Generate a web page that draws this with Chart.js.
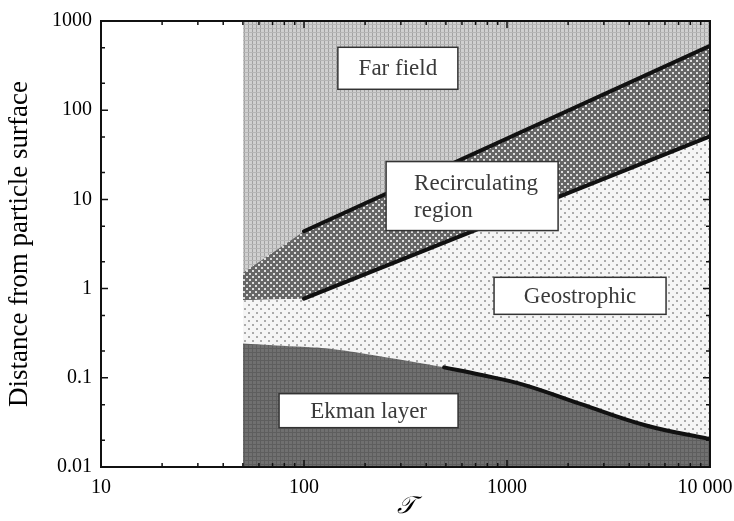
<!DOCTYPE html>
<html>
<head>
<meta charset="utf-8">
<script src="https://cdn.jsdelivr.net/npm/chart.js@4/dist/chart.umd.min.js"></script>
<style>
  html, body { margin: 0; padding: 0; background: #fff; overflow: hidden; }
  #wrap { width: 734px; height: 521px; position: relative; }
</style>
</head>
<body>
<div id="wrap"><canvas id="regimeChart"></canvas></div>
<script>
// 流动区域边界 (横坐标 T, 纵坐标 距颗粒表面距离)
const ekmanX = [50, 93, 135, 240, 490, 740, 1200, 2300, 4900, 10000];
const ekmanTop = [0.243, 0.224, 0.211, 0.173, 0.131, 0.108, 0.084, 0.051, 0.029, 0.0205];
const geoX = [50, 100, 10000];
const geoTop = [0.74, 0.77, 51];
const recircX = [50, 100, 10000];
const recircTop = [1.5, 4.4, 528];
const farX = [50, 10000];
const farTop = [1000, 1000];

// 刻度
const xTicks = [10, 100, 1000, 10000];
const xTickLabels = ['10', '100', '1000', '10 000'];
const yTicks = [0.01, 0.1, 1, 10, 100, 1000];
const yTickLabels = ['0.01', '0.1', '1', '10', '100', '1000'];

const regionNames = ['Far field', 'Recirculating region', 'Geostrophic', 'Ekman layer'];

const SERIF = '"Liberation Serif", "Times New Roman", serif';

const pts = (xs, ys) => xs.map((x, i) => ({ x, y: ys[i] }));

// 网点填充
function makePattern(size, bg, draw) {
  const c = document.createElement('canvas');
  c.width = c.height = size;
  const g = c.getContext('2d');
  g.fillStyle = bg;
  g.fillRect(0, 0, size, size);
  draw(g);
  return g.createPattern(c, 'repeat');
}

const farFill = makePattern(4, '#d0d0d0', g => {
  g.fillStyle = '#a2a2a2';
  g.fillRect(0, 0, 1, 4);
  g.fillStyle = '#b6b6b6';
  g.fillRect(0, 0, 4, 1);
});
const recircFill = makePattern(6, '#666', g => {
  g.fillStyle = '#dedede';
  g.fillRect(0, 0, 2, 2);
  g.fillRect(3, 3, 2, 2);
});
const geoFill = makePattern(8, '#f5f5f5', g => {
  g.fillStyle = '#aaa';
  g.fillRect(0, 0, 2, 2);
  g.fillRect(4, 4, 2, 2);
});
const ekmanFill = makePattern(4, '#707070', g => {
  g.fillStyle = '#5e5e5e';
  g.fillRect(0, 0, 1, 4);
  g.fillRect(0, 0, 4, 1);
});

// 区域名称框 (中心为数据坐标, 宽高为像素)
const labelBoxes = [
  { x: 290, y: 295, w: 120, h: 42 },
  { x: 673, y: 10.9, w: 172, h: 69, left: 28, lines: ['Recirculating', 'region'] },
  { x: 2290, y: 0.83, w: 172, h: 37 },
  { x: 208, y: 0.0428, w: 179, h: 34 }
];

const framePlugin = {
  id: 'frame',
  afterDatasetsDraw(chart) {
    const { ctx, chartArea: a, scales: { x, y } } = chart;
    ctx.save();

    // 名称框
    ctx.font = '23px ' + SERIF;
    ctx.textBaseline = 'middle';
    labelBoxes.forEach((b, i) => {
      const cx = x.getPixelForValue(b.x);
      const cy = y.getPixelForValue(b.y);
      const l = cx - b.w / 2, t = cy - b.h / 2;
      ctx.fillStyle = '#fff';
      ctx.fillRect(l, t, b.w, b.h);
      ctx.strokeStyle = '#333';
      ctx.lineWidth = 1.5;
      ctx.strokeRect(l, t, b.w, b.h);
      ctx.fillStyle = '#3a3a3a';
      if (b.lines) {
        ctx.textAlign = 'left';
        b.lines.forEach((s, k) => ctx.fillText(s, l + b.left, cy + 1 + (k - 0.5) * 27));
      } else {
        ctx.textAlign = 'center';
        ctx.fillText(regionNames[i], cx, cy + 1);
      }
    });

    // 外框
    ctx.strokeStyle = '#111';
    ctx.lineWidth = 2;
    ctx.strokeRect(a.left, a.top, a.right - a.left, a.bottom - a.top);

    // 向内的刻度线
    ctx.lineWidth = 1.5;
    ctx.beginPath();
    for (let d = 10; d < 10000; d *= 10) {
      for (let m = 1; m < 10; m++) {
        const px = x.getPixelForValue(d * m);
        const len = m === 1 ? 7 : 4;
        ctx.moveTo(px, a.bottom); ctx.lineTo(px, a.bottom - len);
        ctx.moveTo(px, a.top); ctx.lineTo(px, a.top + len);
      }
    }
    for (let d = 0.01; d < 1000; d *= 10) {
      [1, 2, 5].forEach(m => {
        const py = y.getPixelForValue(d * m);
        const len = m === 1 ? 7 : 4;
        ctx.moveTo(a.left, py); ctx.lineTo(a.left + len, py);
        ctx.moveTo(a.right, py); ctx.lineTo(a.right - len, py);
      });
    }
    ctx.stroke();
    ctx.restore();
  }
};

const boundary = (data, tension = 0) => ({
  data,
  borderColor: '#111',
  borderWidth: 4,
  borderCapStyle: 'round',
  pointRadius: 0,
  tension,
  fill: false
});

const area = (data, bg, fill, tension = 0) => ({
  data,
  borderWidth: 0,
  borderColor: 'transparent',
  backgroundColor: bg,
  pointRadius: 0,
  tension,
  fill
});

new Chart(document.getElementById('regimeChart'), {
  type: 'line',
  data: {
    datasets: [
      boundary(pts(recircX, recircTop).slice(1)),
      boundary(pts(geoX, geoTop).slice(1)),
      boundary(pts(ekmanX, ekmanTop).slice(4), 0.4),
      area(pts(ekmanX, ekmanTop), ekmanFill, 'start', 0.4),
      area(pts(geoX, geoTop), geoFill, 3),
      area(pts(recircX, recircTop), recircFill, 4),
      area(pts(farX, farTop), farFill, 5)
    ]
  },
  options: {
    responsive: true,
    maintainAspectRatio: false,
    animation: false,
    layout: { padding: { top: 15, right: 24, left: 0, bottom: 0 } },
    plugins: {
      legend: { display: false },
      tooltip: { enabled: false }
    },
    scales: {
      x: {
        type: 'logarithmic',
        min: 10,
        max: 10000,
        grid: { display: false, drawTicks: false },
        border: { display: false },
        afterBuildTicks: s => { s.ticks = xTicks.map(v => ({ value: v })); },
        ticks: {
          autoSkip: false,
          maxRotation: 0,
          padding: 9,
          color: '#000',
          font: { family: SERIF, size: 20 },
          // 最后一个标签右侧补一个空格, 让它整体左移留在画布内
          callback: (v, i) => i === xTicks.length - 1 ? xTickLabels[i] + '\u2002' : xTickLabels[i]
        },
        title: {
          display: true,
          text: '\uD835\uDCAF',
          color: '#000',
          font: { family: '"DejaVu Serif", serif', size: 24, style: 'italic' },
          padding: { top: 0, bottom: 0 }
        },
        afterFit: s => { s.height = 54; s.paddingRight = 24; }
      },
      y: {
        type: 'logarithmic',
        min: 0.01,
        max: 1000,
        grid: { display: false, drawTicks: false },
        border: { display: false },
        afterBuildTicks: s => { s.ticks = yTicks.map(v => ({ value: v })); },
        ticks: {
          autoSkip: false,
          padding: 9,
          color: '#000',
          font: { family: SERIF, size: 20 },
          callback: (v, i) => yTickLabels[i]
        },
        title: {
          display: true,
          text: 'Distance from particle surface',
          color: '#000',
          font: { family: SERIF, size: 27 },
          padding: { top: 4, bottom: 0 }
        },
        afterFit: s => { s.width = 101; }
      }
    }
  },
  plugins: [framePlugin]
});
</script>
</body>
</html>
